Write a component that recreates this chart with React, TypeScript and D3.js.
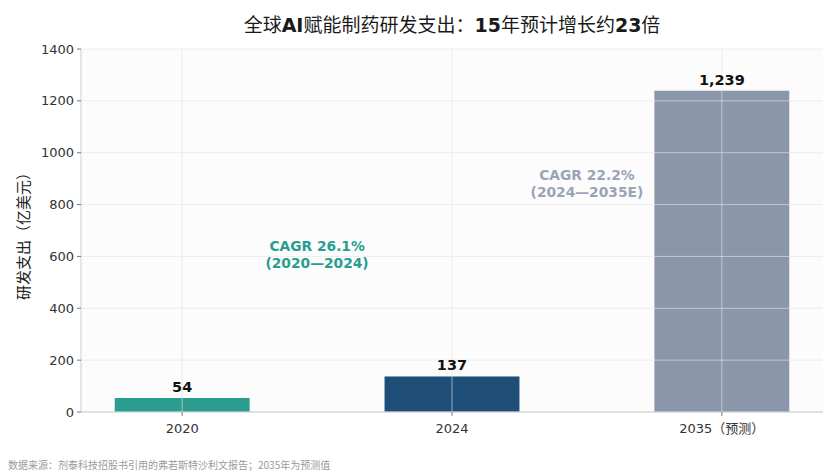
import React from 'react';
import * as d3 from 'd3';

// Chart data
const categories = ['2020', '2024', '2035（预测）'];
const values = [54, 137, 1239];
const barColors = ['#2a9d8f', '#1f4e79', '#8a97ab'];
const yTicks = [0, 200, 400, 600, 800, 1000, 1200, 1400];
const cagrLabels = [
  { lines: ['CAGR 26.1%', '(2020—2024)'], color: '#2a9d8f' },
  { lines: ['CAGR 22.2%', '(2024—2035E)'], color: '#9aa4b6' },
];

const WIDTH = 840;
const HEIGHT = 476;
const FONT = '"DejaVu Sans", "Noto Sans CJK SC", sans-serif';
const CJK = '"Noto Sans CJK SC", "DejaVu Sans", sans-serif';

export default function App() {
  const margin = { top: 49, right: 17, bottom: 64, left: 81 };
  const chartWidth = WIDTH - margin.left - margin.right;
  const chartHeight = HEIGHT - margin.top - margin.bottom;

  const xScale = d3
    .scaleBand<string>()
    .domain(categories)
    .range([0, chartWidth])
    .paddingInner(0.5)
    .paddingOuter(0.125);

  const yScale = d3.scaleLinear().domain([0, 1400]).range([chartHeight, 0]);

  const cx = (c: string) => (xScale(c) ?? 0) + xScale.bandwidth() / 2;
  const fmt = d3.format(',');

  // annotations sit halfway between neighbouring bars
  const annotY = [608, 882];

  return (
    <svg
      width={WIDTH}
      height={HEIGHT}
      lang="zh-CN"
      style={{ position: 'absolute', left: 0, top: 0, background: '#fff' }}
      fontFamily={FONT}
    >
      <text x={margin.left + chartWidth / 2} y={32} textAnchor="middle" fontSize={19} fill="#1a1a1a">
        <tspan fontFamily={CJK}>全球</tspan>
        <tspan fontWeight="bold">AI</tspan>
        <tspan fontFamily={CJK}>赋能制药研发支出：</tspan>
        <tspan fontWeight="bold">15</tspan>
        <tspan fontFamily={CJK}>年预计增长约</tspan>
        <tspan fontWeight="bold">23</tspan>
        <tspan fontFamily={CJK}>倍</tspan>
      </text>

      <g transform={`translate(${margin.left},${margin.top})`}>
        <rect x={0} y={0} width={chartWidth} height={chartHeight} fill="#fcfcfc" />

        {/* bars */}
        {categories.map((c, i) => (
          <rect
            key={c}
            x={xScale(c)}
            y={yScale(values[i])}
            width={xScale.bandwidth()}
            height={chartHeight - yScale(values[i])}
            fill={barColors[i]}
          />
        ))}

        {/* grid drawn over bars */}
        {yTicks.map((t) => (
          <line
            key={`gy${t}`}
            x1={0}
            x2={chartWidth}
            y1={yScale(t)}
            y2={yScale(t)}
            stroke="#e4e4e4"
            strokeOpacity={0.7}
            strokeWidth={0.9}
          />
        ))}
        {categories.map((c) => (
          <line
            key={`gx${c}`}
            x1={cx(c)}
            x2={cx(c)}
            y1={0}
            y2={chartHeight}
            stroke="#e4e4e4"
            strokeOpacity={0.7}
            strokeWidth={0.9}
          />
        ))}

        {/* value labels */}
        {categories.map((c, i) => (
          <text
            key={`v${c}`}
            x={cx(c)}
            y={yScale(values[i]) - 6}
            textAnchor="middle"
            fontSize={14.5}
            fontWeight="bold"
            fill="#111"
          >
            {fmt(values[i])}
          </text>
        ))}

        {/* CAGR annotations */}
        {cagrLabels.map((a, i) => {
          const x = (cx(categories[i]) + cx(categories[i + 1])) / 2;
          const y = yScale(annotY[i]);
          return (
            <text key={`a${i}`} x={x} textAnchor="middle" fontSize={13.8} fontWeight="bold" fill={a.color}>
              <tspan x={x} y={y - 3}>
                {a.lines[0]}
              </tspan>
              <tspan x={x} y={y + 13.5}>
                {a.lines[1]}
              </tspan>
            </text>
          );
        })}

        {/* spines */}
        <line x1={0} x2={0} y1={0} y2={chartHeight} stroke="#cccccc" strokeWidth={1} />
        <line x1={0} x2={chartWidth} y1={chartHeight} y2={chartHeight} stroke="#cccccc" strokeWidth={1.2} />

        {/* y ticks */}
        {yTicks.map((t) => (
          <g key={`yt${t}`} transform={`translate(0,${yScale(t)})`}>
            <line x1={-4} x2={0} stroke="#555" strokeWidth={0.8} />
            <text x={-7} dy="0.35em" textAnchor="end" fontSize={13} fill="#333">
              {t}
            </text>
          </g>
        ))}

        {/* x ticks */}
        {categories.map((c) => (
          <g key={`xt${c}`} transform={`translate(${cx(c)},${chartHeight})`}>
            <line y1={0} y2={4} stroke="#555" strokeWidth={0.8} />
            <text y={21} textAnchor="middle" fontSize={13} fill="#333">
              {c.slice(0, 4)}
              {c.length > 4 && <tspan fontFamily={CJK}>{c.slice(4)}</tspan>}
            </text>
          </g>
        ))}

        <text
          transform={`translate(${-57},${chartHeight / 2 + 2}) rotate(-90)`}
          textAnchor="middle"
          dy="0.35em"
          fontSize={15}
          fontFamily={CJK}
          fill="#222"
        >
          研发支出（亿美元）
        </text>
      </g>

      <text x={8} y={469} fontSize={10} fontFamily={CJK} fill="#9a9a9a">
        数据来源：剂泰科技招股书引用的弗若斯特沙利文报告；2035年为预测值
      </text>
    </svg>
  );
}
